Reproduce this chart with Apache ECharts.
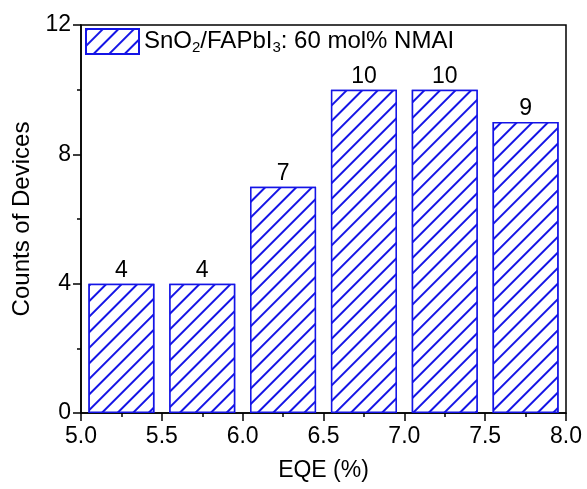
<!DOCTYPE html>
<html>
<head>
<meta charset="utf-8">
<script src="https://cdn.jsdelivr.net/npm/echarts@6/dist/echarts.min.js"></script>
<style>html,body{margin:0;padding:0;background:#fff;}#c{width:587px;height:489px;}</style>
</head>
<body>
<div id="c"></div>
<script>
var binCenters = [5.25, 5.75, 6.25, 6.75, 7.25, 7.75];
var counts = [4, 4, 7, 10, 10, 9];
var xTicks = [5.0, 5.5, 6.0, 6.5, 7.0, 7.5, 8.0];
var yTicks = [0, 4, 8, 12];
var seriesName = 'SnO2/FAPbI3: 60 mol% NMAI';

var blue = '#1414e6';
var font = 'Liberation Sans';
var chart = echarts.init(document.getElementById('c'), null, {renderer: 'canvas'});
var decal = {
  symbol: 'rect',
  symbolSize: 1,
  color: blue,
  backgroundColor: '#fff',
  dashArrayX: [1, 0],
  dashArrayY: [1.6, 9],
  rotation: -Math.PI / 4
};
chart.setOption({
  backgroundColor: '#fff',
  animation: false,
  grid: {left: 81, right: 21, top: 25, bottom: 76, show: true, borderColor: '#000', borderWidth: 1.5, backgroundColor: 'transparent'},
  legend: {
    left: 80, top: 24, padding: [4, 5, 4, 5], itemWidth: 53, itemHeight: 25, itemGap: 5,
    data: [{name: seriesName, icon: 'rect'}],
    formatter: function () { return 'SnO{s|2}/FAPbI{s|3}: 60 mol% NMAI'; },
    textStyle: {
      fontFamily: font, fontSize: 24, color: '#000', padding: [0, 0, 0, 0],
      rich: {s: {fontFamily: font, fontSize: 15, verticalAlign: 'bottom', padding: [12, 0, 0, 0], color: '#000'}}
    }
  },
  xAxis: {
    type: 'value', min: 5, max: 8, interval: 0.5,
    name: 'EQE (%)', nameLocation: 'middle', nameGap: 46,
    nameTextStyle: {fontFamily: font, fontSize: 23, color: '#000'},
    axisLine: {show: true, lineStyle: {color: '#000', width: 1.5}},
    axisTick: {show: true, inside: false, length: 8, lineStyle: {color: '#000', width: 1.5}},
    minorTick: {show: true, splitNumber: 2, length: 4, lineStyle: {color: '#000', width: 1.5}},
    splitLine: {show: false},
    axisLabel: {fontFamily: font, fontSize: 23, color: '#000', margin: 12,
      formatter: function (v) { return v.toFixed(1); }}
  },
  yAxis: {
    type: 'value', min: 0, max: 12, interval: 4,
    name: 'Counts of Devices', nameLocation: 'middle', nameGap: 46,
    nameTextStyle: {fontFamily: font, fontSize: 24, color: '#000'},
    axisLine: {show: true, lineStyle: {color: '#000', width: 1.5}},
    axisTick: {show: true, inside: false, length: 8, lineStyle: {color: '#000', width: 1.5}},
    minorTick: {show: true, splitNumber: 2, length: 4, lineStyle: {color: '#000', width: 1.5}},
    splitLine: {show: false},
    axisLabel: {fontFamily: font, fontSize: 23, color: '#000', margin: 10}
  },
  series: [{
    name: seriesName,
    type: 'bar',
    barWidth: 66,
    data: binCenters.map(function (x, i) { return [x, counts[i]]; }),
    itemStyle: {color: '#fff', borderColor: blue, borderWidth: 1.5, decal: decal},
    label: {show: true, position: 'top', distance: 2, fontFamily: font, fontSize: 23, color: '#000',
      formatter: function (p) { return p.value[1]; }}
  }]
});
</script>
</body>
</html>
